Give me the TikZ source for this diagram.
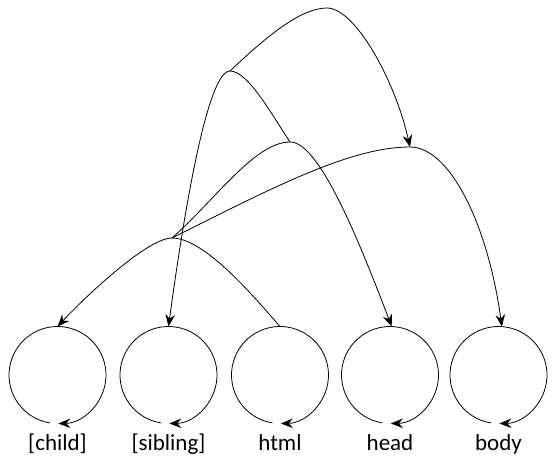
\documentclass[tikz,border=0pt]{standalone}
\usepackage{fontspec}
\setmainfont{Carlito}
\usetikzlibrary{arrows.meta}
\begin{document}
\begin{tikzpicture}[x=1pt,y=1pt,
  circ/.style={circle,minimum size=97pt,inner sep=0pt,outer sep=0pt},
  lbl/.style={anchor=base,inner sep=0pt,font=\fontsize{23}{27}\selectfont},
  link/.style={line width=0.8pt,-{Stealth[length=12pt,width=9.5pt,inset=4pt]}},
  loopline/.style={line width=0.8pt,-{Stealth[length=12pt,width=9.5pt,inset=4pt]}}]
\useasboundingbox (0,0) rectangle (554,-468);
% circles
\node[circ] (child) at (57.5,-375) {};
\node[circ] (sibling) at (168.5,-375) {};
\node[circ] (html) at (280,-375) {};
\node[circ] (head) at (390,-375) {};
\node[circ] (body) at (498.5,-375) {};
\foreach \n in {child,sibling,html,head,body}
  \draw[loopline] (\n.261) arc[start angle=261,end angle=-89,radius=48.5pt];
% labels
\node[lbl] (lchild) at (57.5,-450) {[child]};
\node[lbl] (lsibling) at (168.5,-450) {[sibling]};
\node[lbl] (lhtml) at (280,-450) {html};
\node[lbl] (lhead) at (390,-450) {head};
\node[lbl] (lbody) at (498.5,-450) {body};
% junction points
\coordinate (m1) at (172,-238);
\coordinate (m2) at (290,-142);
\coordinate (m3) at (230,-71);
\coordinate (t4) at (327,-8);
\coordinate (m5) at (410,-147);
% edges
\draw[link] (html.north) .. controls (255,-298) and (205,-238) .. (m1)
  .. controls (148,-238) and (88,-294) .. (child.north);
\draw[link] (m1) .. controls (215,-200) and (255,-142) .. (m2)
  .. controls (318,-142) and (355,-230) .. (head.88);
\draw[link] (m2) .. controls (272,-115) and (248,-71) .. (m3)
  .. controls (208,-71) and (185,-205) .. (sibling.north);
\draw[link] (m3) .. controls (265,-38) and (300,-8) .. (t4)
  .. controls (355,-8) and (395,-80) .. (m5);
\draw[link] (m1) .. controls (272,-188) and (350,-147) .. (m5)
  .. controls (450,-147) and (488,-225) .. (body.86);
\end{tikzpicture}
\end{document}
